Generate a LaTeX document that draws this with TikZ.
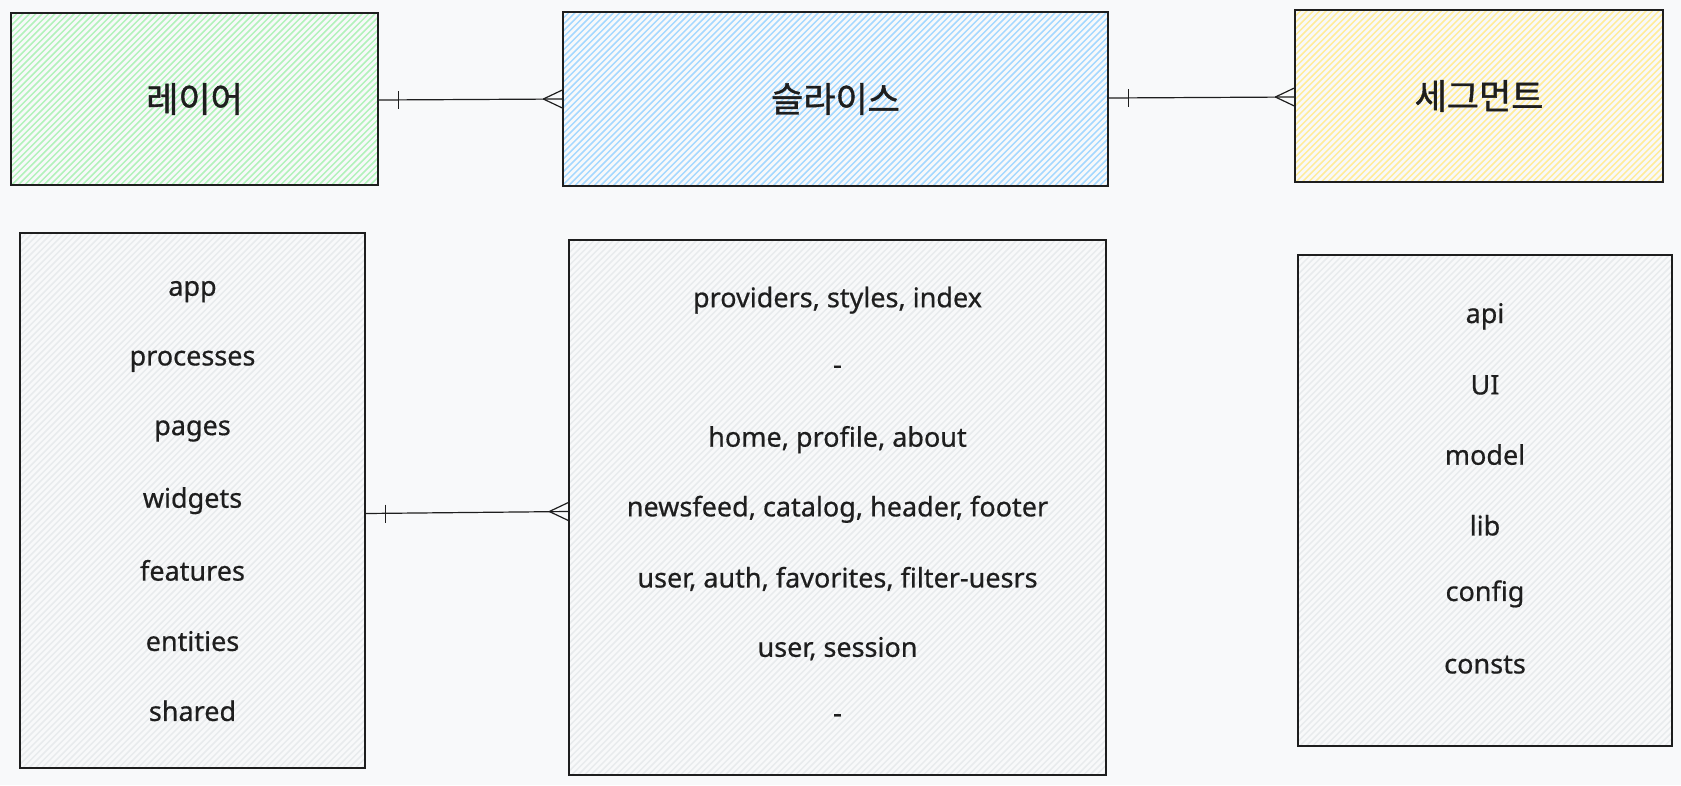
\documentclass[tikz,border=0pt]{standalone}
\usepackage{fontspec}
\setmainfont[FakeBold=0.6]{Noto Sans}
\newfontfamily\kofont[FakeBold=1.2]{Noto Sans CJK KR}
\usetikzlibrary{calc}
\definecolor{bgc}{HTML}{F8F9FA}
\definecolor{inkc}{HTML}{1E1E1E}
\definecolor{greenh}{HTML}{B2F2BB}
\definecolor{blueh}{HTML}{A5D8FF}
\definecolor{yellowh}{HTML}{FFEC99}
\definecolor{grayh}{HTML}{DEE2E6}
\newcommand\hachfill[5]{%
  \begin{scope}
    \clip (#1,#2) rectangle (#3,#4);
    \pgfmathsetmacro\hsA{#1+#2}
    \pgfmathsetmacro\hsB{#1+#2+6.4}
    \pgfmathsetmacro\hsE{#3+#4}
    \foreach \c in {\hsA,\hsB,...,\hsE}
      \draw[#5, line width=1.5pt] ({\c-#4},#4) -- ({\c-#2},#2);
  \end{scope}}
\tikzset{
  box/.style={draw=inkc, line width=1.3pt, inner sep=0pt},
  title/.style={text=inkc, font=\kofont\fontsize{35}{40}\selectfont},
  item/.style={text=inkc, font=\fontsize{27}{31}\selectfont},
  conn/.style={draw=inkc, line width=1.2pt},
}
\begin{document}
\begin{tikzpicture}[x=1pt,y=-1pt]
\fill[bgc] (0,0) rectangle (1681,785);
\useasboundingbox (0,0) rectangle (1681,785);
% hachure fills
\hachfill{11}{13}{378}{185}{greenh}
\hachfill{563}{12}{1108}{186}{blueh}
\hachfill{1295}{10}{1663}{182}{yellowh}
\hachfill{20}{233}{365}{768}{grayh!70}
\hachfill{569}{240}{1106}{775}{grayh!70}
\hachfill{1298}{255}{1672}{746}{grayh!70}
% top boxes
\node[box, minimum width=367pt, minimum height=172pt, title] (layer) at (194.5,99) {레이어};
\node[box, minimum width=545pt, minimum height=174pt, title] (slice) at (835.5,99) {슬라이스};
\node[box, minimum width=368pt, minimum height=172pt, title] (segment) at (1479,96) {세그먼트};
% bottom boxes
\node[box, minimum width=345pt, minimum height=535pt] (lb) at (192.5,500.5) {};
\node[box, minimum width=537pt, minimum height=535pt] (mb) at (837.5,507.5) {};
\node[box, minimum width=374pt, minimum height=491pt] (rb) at (1485,500.5) {};
% left list
\node[item] (l1) at (192.5,291.6) {app};
\node[item] (l2) at (192.5,361.3) {processes};
\node[item] (l3) at (192.5,431) {pages};
\node[item] (l4) at (192.5,500.7) {widgets};
\node[item] (l5) at (192.5,570.4) {features};
\node[item] (l6) at (192.5,641.1) {entities};
\node[item] (l7) at (192.5,710.8) {shared};
% middle list
\node[item] (m1) at (837.5,300.2) {providers, styles, index};
\node[item] (m2) at (837.5,369.9) {-};
\node[item] (m3) at (837.5,439.6) {home, profile, about};
\node[item] (m4) at (837.5,509.3) {newsfeed, catalog, header, footer};
\node[item] (m5) at (837.5,578.9) {user, auth, favorites, filter-uesrs};
\node[item] (m6) at (837.5,648.6) {user, session};
\node[item] (m7) at (837.5,718.3) {-};
% right list
\node[item] (r1) at (1485,316.3) {api};
\node[item] (r2) at (1485,384.9) {UI};
\node[item] (r3) at (1485,454.6) {model};
\node[item] (r4) at (1485,525.3) {lib};
\node[item] (r5) at (1485,593.9) {config};
\node[item] (r6) at (1485,664.7) {consts};
% connectors (one-to-many)
\coordinate (a1) at ($(layer.east)+(0,1)$);
\coordinate (a2) at ($(slice.west)+(0,0)$);
\coordinate (b1) at ($(slice.east)+(0,-1)$);
\coordinate (b2) at ($(segment.west)+(0,1)$);
\coordinate (c1) at ($(lb.east)+(0,13)$);
\coordinate (c2) at ($(mb.west)+(0,4)$);
\foreach \s/\e in {a1/a2, b1/b2, c1/c2}{
  \draw[conn] (\s) -- (\e);
  \draw[conn] ($(\s)+(20,-9)$) -- ($(\s)+(20,9)$);
  \draw[conn] ($(\e)+(-19,0)$) -- ($(\e)+(0,-9)$);
  \draw[conn] ($(\e)+(-19,0)$) -- ($(\e)+(0,9)$);
}
\end{tikzpicture}
\end{document}
